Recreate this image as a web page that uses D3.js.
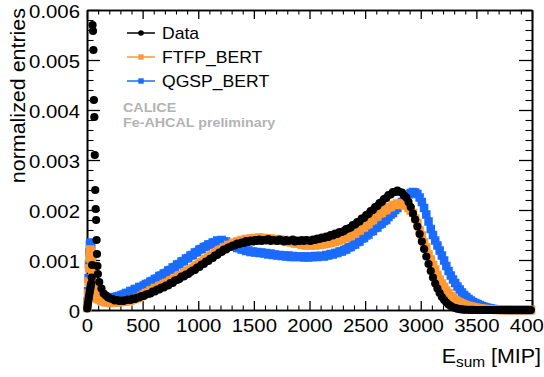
<!DOCTYPE html>
<html><head><meta charset="utf-8">
<script src="https://cdn.jsdelivr.net/npm/d3@7"></script>
<style>
html,body{margin:0;padding:0;background:#fff;}
svg{display:block;}
</style></head><body>
<svg id="chart" width="544" height="377"></svg>
<script>
// Normalized entries are stored in units of 1e-4
const UNIT = 1e-4;

// Fine binning below 100 MIP (4 MIP wide bins starting at 0)
const lowBinWidth = 4;
const lowBinStart = 0;
const dataLow = [0.3, 0.9, 1.5, 2.1, 2.7, 3.3, 3.8, 4.3, 4.8, 5.3, 6.5, 9.0, 57.0, 55.8, 52.0, 42.0, 38.6, 31.0, 24.0, 20.2, 18.0, 14.0, 11.2, 8.8, 7.2];
const ftfpLow = [0.4, 1.5, 3.3, 5.7, 8.3, 10.4, 11.7, 12.1, 11.7, 10.8, 9.6, 8.4, 7.2, 6.2, 5.3, 4.6, 4.0, 3.6, 3.2, 2.9, 2.7, 2.5, 2.4, 2.3, 2.2];
const qgspLow = [0.5, 1.8, 3.8, 6.4, 9.2, 11.5, 13.0, 13.5, 13.2, 12.3, 11.1, 9.9, 8.7, 7.7, 6.8, 6.1, 5.5, 5.0, 4.6, 4.2, 3.9, 3.6, 3.4, 3.2, 3.0];

// Coarse binning from 100 to 4000 MIP (20 MIP wide bins)
const binWidth = 20;
const binStart = 100;
const dataMain = [
  5.6, 4.3, 3.3, 2.9, 2.5, 2.3, 2.2, 1.9, 2.0, 1.8,
  1.9, 1.8, 2.0, 2.1, 2.0, 2.3, 2.2, 2.5, 2.5, 2.8,
  2.8, 3.1, 3.2, 3.3, 3.7, 3.7, 4.1, 4.1, 4.5, 4.5,
  4.9, 4.9, 5.4, 5.4, 5.9, 6.0, 6.2, 6.7, 6.7, 7.1,
  7.2, 7.6, 7.9, 8.0, 8.5, 8.6, 9.1, 9.2, 9.7, 9.8,
  10.3, 10.4, 10.9, 11.0, 11.5, 11.6, 12.1, 12.1, 12.5, 12.6,
  12.9, 12.9, 13.3, 13.2, 13.5, 13.4, 13.8, 13.6, 13.9, 13.7,
  14.0, 13.8, 14.1, 13.8, 14.0, 13.9, 14.2, 13.8, 14.0, 13.9,
  13.8, 14.1, 13.9, 13.7, 14.0, 13.8, 13.9, 14.1, 13.7, 13.9,
  13.8, 14.0, 13.8, 14.0, 13.9, 13.8, 14.1, 14.0, 14.3, 14.2,
  14.5, 14.4, 14.7, 14.6, 15.0, 14.9, 15.3, 15.2, 15.6, 15.6,
  15.8, 16.2, 16.3, 16.5, 17.0, 17.1, 17.6, 17.7, 18.3, 18.4,
  19.0, 19.2, 19.8, 20.0, 20.6, 20.8, 21.4, 21.6, 22.2, 22.4,
  23.0, 23.1, 23.6, 23.6, 23.9, 23.6, 23.5, 22.9, 22.5, 21.6,
  20.6, 19.3, 18.1, 16.7, 15.2, 13.7, 12.2, 10.7, 9.2, 7.8,
  6.5, 5.3, 4.3, 3.4, 2.6, 2.0, 1.5, 1.1, 0.8, 0.55,
  0.38, 0.26, 0.17, 0.11, 0.07, 0.05, 0.03, 0.02, 0.01, 0,
  0, 0, 0, 0, 0, 0, 0, 0, 0, 0,
  0, 0, 0, 0, 0, 0, 0, 0, 0, 0,
  0, 0, 0, 0, 0
];
const ftfpMain = [
  2.1, 1.8, 1.7, 1.5, 1.6, 1.4, 1.5, 1.6, 1.5, 1.6,
  1.6, 1.7, 1.7, 1.9, 1.9, 2.1, 2.2, 2.4, 2.5, 2.8,
  3.1, 3.4, 3.5, 3.9, 4.0, 4.4, 4.4, 4.8, 4.9, 5.2,
  5.4, 5.5, 5.9, 6.0, 6.4, 6.5, 6.9, 7.0, 7.4, 7.5,
  7.9, 8.1, 8.4, 8.7, 9.0, 9.3, 9.6, 9.9, 10.2, 10.5,
  10.8, 11.0, 11.4, 11.6, 12.0, 12.1, 12.5, 12.6, 13.0, 13.0,
  13.4, 13.4, 13.7, 13.8, 14.0, 13.9, 14.2, 14.1, 14.3, 14.2,
  14.4, 14.2, 14.5, 14.2, 14.4, 14.3, 14.2, 14.3, 14.1, 14.2,
  14.0, 14.1, 13.9, 14.0, 13.7, 13.8, 13.5, 13.6, 13.3, 13.4,
  13.3, 13.0, 13.2, 12.9, 13.1, 12.9, 13.1, 12.9, 13.2, 13.0,
  13.1, 13.3, 13.2, 13.4, 13.4, 13.7, 13.6, 13.9, 13.9, 14.2,
  14.4, 14.4, 14.8, 14.8, 15.2, 15.3, 15.8, 15.9, 16.4, 16.5,
  17.0, 17.2, 17.8, 18.0, 18.6, 18.7, 19.3, 19.4, 19.9, 20.0,
  20.5, 20.6, 21.0, 21.0, 21.3, 21.1, 21.3, 21.0, 20.9, 20.4,
  19.9, 19.4, 18.3, 17.4, 15.9, 14.9, 13.5, 12.5, 11.1, 10.1,
  9.0, 8.1, 7.0, 6.1, 5.3, 4.6, 3.9, 3.4, 2.8, 2.4,
  2.0, 1.7, 1.5, 1.3, 1.1, 0.95, 0.8, 0.7, 0.6, 0.5,
  0.42, 0.35, 0.28, 0.22, 0.17, 0.12, 0.08, 0.05, 0.03, 0.02,
  0.01, 0, 0, 0, 0, 0, 0, 0, 0, 0,
  0, 0, 0, 0, 0
];
const qgspMain = [
  3.0, 2.7, 2.6, 2.4, 2.5, 2.4, 2.6, 2.5, 2.7, 2.8,
  3.0, 3.1, 3.4, 3.4, 3.8, 3.8, 4.2, 4.2, 4.6, 4.6,
  4.9, 5.2, 5.3, 5.7, 5.8, 6.2, 6.3, 6.8, 6.9, 7.3,
  7.4, 7.9, 8.0, 8.5, 8.6, 9.1, 9.2, 9.7, 9.8, 10.3,
  10.4, 10.9, 11.0, 11.5, 11.6, 12.1, 12.2, 12.6, 12.7, 13.1,
  13.1, 13.5, 13.5, 13.9, 13.8, 14.0, 13.7, 13.7, 13.3, 13.2,
  12.8, 12.8, 12.4, 12.4, 12.1, 12.1, 11.8, 11.9, 11.6, 11.7,
  11.5, 11.6, 11.4, 11.5, 11.3, 11.4, 11.1, 11.3, 11.0, 11.1,
  10.9, 11.0, 10.8, 10.9, 10.7, 10.9, 10.6, 10.8, 10.6, 10.7,
  10.6, 10.7, 10.5, 10.7, 10.5, 10.7, 10.6, 10.8, 10.6, 10.8,
  10.8, 10.7, 11.0, 10.9, 11.2, 11.1, 11.4, 11.4, 11.7, 11.7,
  12.0, 12.1, 12.5, 12.6, 13.0, 13.1, 13.6, 13.7, 14.3, 14.4,
  14.9, 15.1, 15.7, 15.8, 16.4, 16.5, 17.1, 17.3, 17.8, 18.0,
  18.6, 19.1, 19.4, 20.0, 20.4, 21.1, 21.6, 22.3, 22.7, 23.1,
  23.4, 23.6, 23.5, 23.2, 22.5, 21.6, 20.4, 19.1, 17.7, 16.2,
  15.0, 13.9, 12.9, 11.9, 10.9, 9.9, 8.8, 7.8, 6.9, 6.1,
  5.4, 4.7, 4.1, 3.5, 3.0, 2.6, 2.2, 1.9, 1.6, 1.4,
  1.2, 1.0, 0.8, 0.65, 0.5, 0.4, 0.3, 0.22, 0.16, 0.11,
  0.08, 0.05, 0.03, 0.02, 0.01, 0, 0, 0, 0, 0,
  0, 0, 0, 0, 0
];

// Axis ticks
const xTickValues = [0, 500, 1000, 1500, 2000, 2500, 3000, 3500, 4000];
const xTickLabels = ["0", "500", "1000", "1500", "2000", "2500", "3000", "3500", "4000"];
const xMinorValues = d3.range(0, 4001, 100).filter(v => v % 500 !== 0);
const yTickValues = [0, 0.001, 0.002, 0.003, 0.004, 0.005, 0.006];
const yTickLabels = ["0", "0.001", "0.002", "0.003", "0.004", "0.005", "0.006"];
const yMinorValues = d3.range(0, 31).map(i => i * 0.0002).filter((v, i) => i % 5 !== 0);

// Legend entries
const seriesNames = ["Data", "FTFP_BERT", "QGSP_BERT"];
const seriesColors = ["#000000", "#ff9933", "#1a6cff"];
const seriesMarkers = ["circle", "square", "square"];

const FONT = "'Liberation Sans', Arial, Helvetica, sans-serif";
const SX = 1.1; // horizontal stretch of the Helvetica-like lettering

const W = 544, H = 377;
const X0 = 87, X1 = 532, Y0 = 310, Y1 = 10;

const svg = d3.select("#chart");
svg.append("rect").attr("width", W).attr("height", H).attr("fill", "#fff");

const x = d3.scaleLinear().domain([0, 4000]).range([X0, X1]);
const y = d3.scaleLinear().domain([0, 0.006]).range([Y0, Y1]);

function toPoints(low, main) {
  const pts = [];
  low.forEach((v, i) => pts.push({ e: lowBinStart + (i + 0.5) * lowBinWidth, v: v * UNIT }));
  main.forEach((v, i) => pts.push({ e: binStart + (i + 0.5) * binWidth, v: v * UNIT }));
  return pts;
}
const series = [
  toPoints(dataLow, dataMain),
  toPoints(ftfpLow, ftfpMain),
  toPoints(qgspLow, qgspMain)
];

// ---- axes (ticks point into the frame, ROOT style) ----
function styleAxis(g, major) {
  g.attr("font-family", FONT).attr("font-size", 18.5);
  g.select(".domain").attr("stroke", "#000").attr("stroke-width", 1.6);
  g.selectAll(".tick line").attr("stroke", "#000").attr("stroke-width", major ? 1.3 : 1.1);
}

const gxB = svg.append("g").attr("transform", `translate(0,${Y0})`)
  .call(d3.axisBottom(x).tickValues(xTickValues).tickFormat((d, i) => xTickLabels[i])
    .tickSizeInner(-9).tickSizeOuter(0));
styleAxis(gxB, true);
gxB.selectAll(".tick text").attr("fill", "#000").attr("y", 0).attr("dy", null)
  .attr("transform", `translate(0,22) scale(${SX},1)`);

const gxBm = svg.append("g").attr("transform", `translate(0,${Y0})`)
  .call(d3.axisBottom(x).tickValues(xMinorValues).tickFormat("").tickSizeInner(-4.5).tickSizeOuter(0));
styleAxis(gxBm, false);

const gxT = svg.append("g").attr("transform", `translate(0,${Y1})`)
  .call(d3.axisTop(x).tickValues(xTickValues).tickFormat("").tickSizeInner(-9).tickSizeOuter(0));
styleAxis(gxT, true);
const gxTm = svg.append("g").attr("transform", `translate(0,${Y1})`)
  .call(d3.axisTop(x).tickValues(xMinorValues).tickFormat("").tickSizeInner(-4.5).tickSizeOuter(0));
styleAxis(gxTm, false);

const gyL = svg.append("g").attr("transform", `translate(${X0},0)`)
  .call(d3.axisLeft(y).tickValues(yTickValues).tickFormat((d, i) => yTickLabels[i])
    .tickSizeInner(-13).tickSizeOuter(0));
styleAxis(gyL, true);
gyL.selectAll(".tick text").attr("fill", "#000").attr("x", 0).attr("dy", null)
  .attr("transform", `translate(-7,7) scale(${SX},1)`);

const gyLm = svg.append("g").attr("transform", `translate(${X0},0)`)
  .call(d3.axisLeft(y).tickValues(yMinorValues).tickFormat("").tickSizeInner(-6.5).tickSizeOuter(0));
styleAxis(gyLm, false);

const gyR = svg.append("g").attr("transform", `translate(${X1},0)`)
  .call(d3.axisRight(y).tickValues(yTickValues).tickFormat("").tickSizeInner(-13).tickSizeOuter(0));
styleAxis(gyR, true);
const gyRm = svg.append("g").attr("transform", `translate(${X1},0)`)
  .call(d3.axisRight(y).tickValues(yMinorValues).tickFormat("").tickSizeInner(-6.5).tickSizeOuter(0));
styleAxis(gyRm, false);

// ---- markers: QGSP first, then FTFP, data on top ----
function drawSquares(pts, color, size) {
  svg.append("g").selectAll("rect").data(pts).join("rect")
    .attr("x", d => x(d.e) - size / 2).attr("y", d => y(d.v) - size / 2)
    .attr("width", size).attr("height", size).attr("fill", color);
}
drawSquares(series[2], seriesColors[2], 8.5);
drawSquares(series[1], seriesColors[1], 8.5);
svg.append("g").selectAll("circle").data(series[0]).join("circle")
  .attr("cx", d => x(d.e)).attr("cy", d => y(d.v)).attr("r", 4.1).attr("fill", seriesColors[0]);

// ---- axis titles ----
svg.append("text").attr("font-family", FONT).attr("font-size", 19.5).attr("fill", "#000")
  .attr("text-anchor", "end")
  .attr("transform", `translate(24.5,8) rotate(-90) scale(${SX},1)`)
  .text("normalized entries");

const xt = svg.append("text").attr("font-family", FONT).attr("font-size", 19.5).attr("fill", "#000")
  .attr("text-anchor", "end")
  .attr("transform", `translate(541,363) scale(${SX},1)`);
xt.append("tspan").text("E");
xt.append("tspan").attr("font-size", 14).attr("dy", 3.5).text("sum");
xt.append("tspan").attr("dy", -3.5).text(" [MIP]");

// ---- legend ----
const legRows = [33, 57, 81];
seriesNames.forEach((name, i) => {
  const g = svg.append("g").attr("transform", `translate(0,${legRows[i]})`);
  g.append("line").attr("x1", 127).attr("x2", 155).attr("y1", 0).attr("y2", 0)
    .attr("stroke", seriesColors[i]).attr("stroke-width", 1.5);
  if (seriesMarkers[i] === "circle") {
    g.append("circle").attr("cx", 141).attr("cy", 0).attr("r", 2.8).attr("fill", seriesColors[i]);
  } else {
    g.append("rect").attr("x", 138.3).attr("y", -2.7).attr("width", 5.4).attr("height", 5.4)
      .attr("fill", seriesColors[i]);
  }
  g.append("text").attr("font-family", FONT).attr("font-size", 16).attr("fill", "#000")
    .attr("transform", `translate(162,5.5) scale(${SX},1)`).text(name);
});

// ---- collaboration label ----
[["CALICE", 112], ["Fe-AHCAL preliminary", 127]].forEach(([t, yy]) => {
  svg.append("text").attr("font-family", FONT).attr("font-size", 13).attr("font-weight", "bold")
    .attr("fill", "#b3b3b3").attr("transform", `translate(123,${yy}) scale(${SX},1)`).text(t);
});
</script>
</body></html>
